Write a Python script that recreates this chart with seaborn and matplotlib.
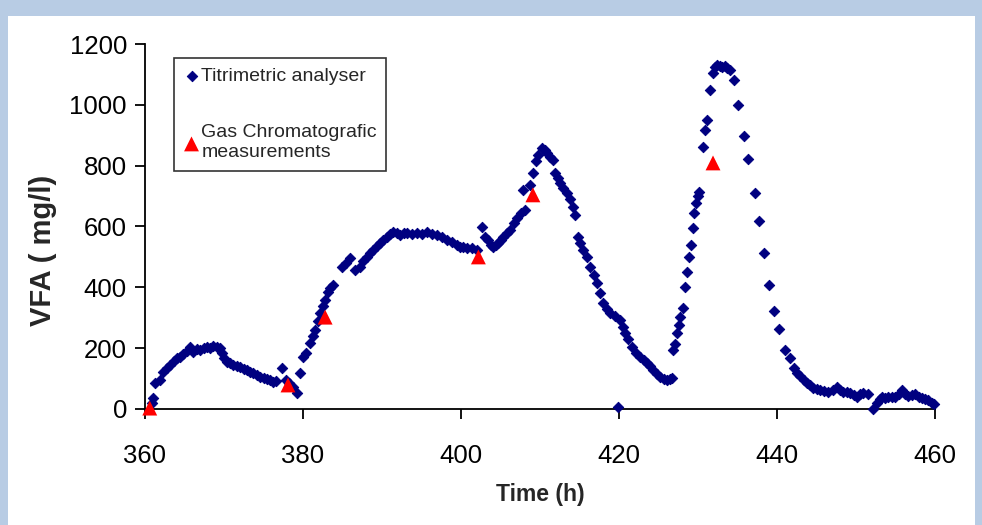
import pandas as pd
import matplotlib.pyplot as plt
import seaborn as sns
from matplotlib.patches import Rectangle

# titrimetric analyser readings (time h, VFA mg/l)
tit_time = [
    360.9, 361.0, 361.3, 361.9, 362.3, 362.8, 363.2, 363.7, 364.1, 364.4, 364.8, 365.3,
    365.7, 366.1, 366.6, 367.0, 367.5, 367.8, 368.2, 368.6, 369.1, 369.5, 369.7, 370.0,
    370.4, 370.8, 371.1, 371.6, 372.0, 372.5, 372.9, 373.3, 373.7, 374.2, 374.6, 375.1,
    375.4, 375.8, 376.2, 376.6, 377.3, 377.8, 378.2, 378.7, 379.2, 379.6, 380.0, 380.4,
    380.9, 381.3, 381.5, 381.9, 382.2, 382.5, 382.8, 383.2, 383.4, 383.8, 384.9, 385.4,
    385.9, 386.6, 387.2, 387.6, 388.1, 388.5, 388.9, 389.4, 389.7, 390.1, 390.6, 391.0,
    391.4, 391.9, 392.3, 392.8, 393.2, 393.8, 394.4, 395.1, 395.7, 396.3, 397.0, 397.6,
    398.2, 398.9, 399.5, 399.9, 400.3, 400.8, 401.4, 402.0, 402.7, 403.0, 403.4, 403.8,
    404.1, 404.4, 404.7, 405.1, 405.3, 405.8, 406.2, 406.7, 407.1, 407.6, 407.8, 408.1,
    408.7, 409.1, 409.5, 409.7, 410.3, 410.6, 410.9, 411.3, 411.6, 411.9, 412.3, 412.5,
    412.9, 413.4, 413.8, 414.2, 414.4, 414.8, 415.1, 415.4, 415.9, 416.3, 416.8, 417.2,
    417.6, 418.0, 418.5, 418.9, 419.5, 419.9, 420.1, 420.5, 420.8, 421.1, 421.6, 422.2,
    422.7, 423.2, 423.5, 423.9, 424.3, 424.8, 425.2, 425.7, 426.1, 426.5, 426.7, 426.8,
    427.1, 427.3, 427.6, 427.7, 428.1, 428.4, 428.6, 428.9, 429.1, 429.4, 429.5, 429.7,
    430.0, 430.1, 430.6, 430.9, 431.1, 431.5, 431.9, 432.2, 432.4, 432.8, 433.0, 433.4,
    433.7, 434.1, 434.6, 435.1, 435.8, 436.3, 437.2, 437.7, 438.4, 439.0, 439.6, 440.3,
    441.0, 441.6, 442.2, 442.5, 442.9, 443.4, 443.8, 444.2, 444.6, 445.1, 445.4, 445.9,
    446.5, 447.1, 447.6, 448.0, 448.4, 448.9, 449.2, 449.7, 450.1, 450.5, 450.9, 451.5,
    452.2, 452.7, 453.0, 453.3, 453.7, 454.1, 454.6, 454.9, 455.4, 455.8, 456.2, 456.6,
    457.1, 457.5, 458.0, 458.4, 458.7, 459.1, 459.6, 459.9,
]
tit_vfa = [
    20, 36, 85, 95, 122, 135, 145, 158, 167, 172, 181, 190,
    204, 187, 196, 194, 200, 204, 202, 207, 204, 200, 185, 168,
    155, 150, 145, 140, 138, 132, 128, 122, 118, 112, 105, 102,
    99, 94, 89, 92, 135, 95, 85, 72, 53, 118, 171, 185,
    217, 240, 260, 290, 316, 340, 358, 385, 398, 408, 467, 480,
    496, 457, 467, 485, 500, 512, 523, 535, 546, 556, 566, 575,
    582, 578, 572, 578, 579, 576, 579, 575, 582, 576, 572, 565,
    556, 548, 539, 533, 533, 530, 529, 523, 598, 566, 556, 540,
    533, 538, 546, 556, 566, 578, 589, 610, 628, 645, 720, 654,
    737, 776, 815, 835, 858, 850, 842, 830, 819, 776, 760, 743,
    725, 710, 690, 664, 638, 566, 545, 523, 500, 467, 440, 414,
    380, 349, 330, 316, 305, 7, 293, 270, 250, 230, 204, 185,
    171, 160, 151, 140, 128, 115, 105, 100, 95, 98, 102, 194,
    215, 250, 275, 303, 332, 401, 450, 500, 539, 595, 644, 677,
    700, 714, 861, 917, 950, 1049, 1105, 1125, 1131, 1128, 1125, 1128,
    1121, 1115, 1082, 1000, 898, 822, 710, 618, 513, 408, 322, 263,
    194, 168, 135, 120, 109, 95, 85, 78, 69, 66, 62, 60,
    56, 62, 72, 62, 56, 55, 53, 46, 39, 49, 53, 49,
    0, 20, 33, 39, 36, 39, 40, 39, 48, 62, 48, 43,
    46, 49, 40, 36, 33, 30, 20, 16,
]

# gas chromatographic measurements
gc_time = [360.6, 378.1, 382.8, 402.2, 409.1, 431.9]
gc_vfa = [3, 79, 302, 500, 704, 809]

x_ticks = [360, 380, 400, 420, 440, 460]
y_ticks = [0, 200, 400, 600, 800, 1000, 1200]

tit = pd.DataFrame({'time': tit_time, 'vfa': tit_vfa})
gc = pd.DataFrame({'time': gc_time, 'vfa': gc_vfa})

sns.set_style("ticks")
plt.rcParams['font.family'] = ['Liberation Sans', 'DejaVu Sans']

fig = plt.figure(figsize=(9.82, 5.25), dpi=100, facecolor='#b8cce4')
fig.patches.append(Rectangle((8 / 982, 0), (975 - 8) / 982, (525 - 16) / 525,
                             transform=fig.transFigure, facecolor='white',
                             edgecolor='none', zorder=-5))

ax = fig.add_axes([145 / 982, 1 - 409 / 525, (935 - 145) / 982, (409 - 44) / 525])
ax.set_zorder(2)

sns.scatterplot(data=tit, x='time', y='vfa', marker='D', color='#000080', s=28,
                edgecolor='#000080', linewidth=0.7, clip_on=False, zorder=3,
                label='Titrimetric analyser', ax=ax)
sns.scatterplot(data=gc, x='time', y='vfa', marker='^', color='#ff0000', s=115,
                edgecolor='none', clip_on=False, zorder=4,
                label='Gas Chromatografic\nmeasurements', ax=ax)

ax.set_xlim(360, 460)
ax.set_ylim(0, 1200)
ax.set_xticks(x_ticks)
ax.set_yticks(y_ticks)
ax.tick_params(direction='out', length=7, width=1.3, labelsize=18.5, colors='black')
ax.tick_params(axis='x', pad=18)
ax.tick_params(axis='y', pad=6)
for s in ['left', 'bottom']:
    ax.spines[s].set_linewidth(1.3)
    ax.spines[s].set_color('black')
sns.despine(ax=ax)

ax.set_xlabel('Time (h)', fontsize=16.5, fontweight='bold', labelpad=11)
ax.set_ylabel('VFA ( mg/l)', fontsize=21, fontweight='bold')
ax.yaxis.set_label_coords(-0.112, 0.435)

leg = ax.legend(loc='upper left', bbox_to_anchor=(174 / 982, 1 - 58 / 525),
                bbox_transform=fig.transFigure, frameon=True, fancybox=False,
                fontsize=14, labelspacing=2.0, handletextpad=0.1,
                handlelength=0.8, borderpad=0.5, borderaxespad=0)
leg.get_frame().set_edgecolor('black')
leg.get_frame().set_linewidth(1.2)

fig.savefig("out.png", dpi=100, facecolor=fig.get_facecolor())
